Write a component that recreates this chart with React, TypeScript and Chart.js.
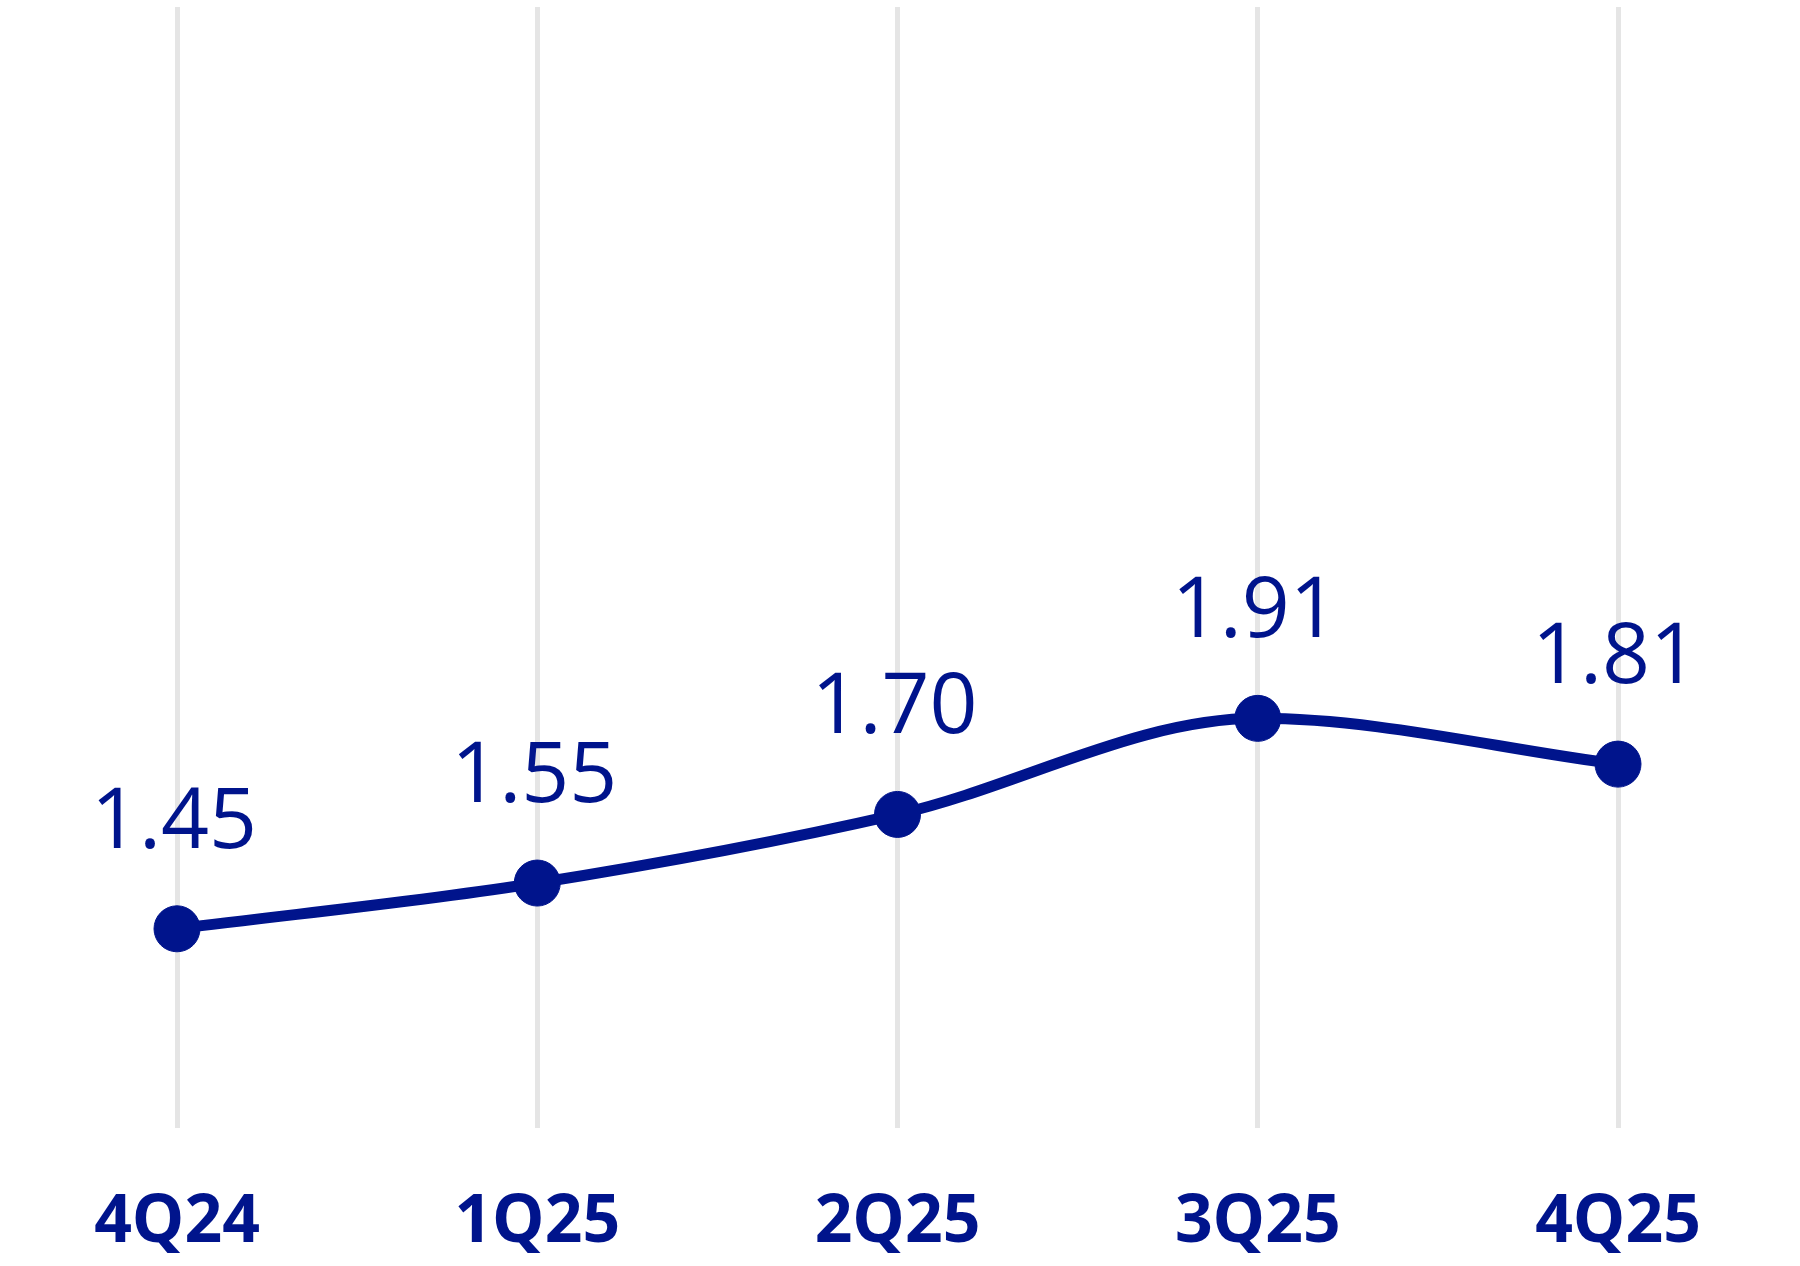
import React, { useEffect, useRef } from "react";
import { Chart, registerables } from "chart.js";

Chart.register(...registerables);

const categories = ["4Q24", "1Q25", "2Q25", "3Q25", "4Q25"];
const values = [1.45, 1.55, 1.7, 1.91, 1.81];
const valueLabels = ["1.45", "1.55", "1.70", "1.91", "1.81"];

const NAVY = "#00148c";
const GRID = "#e5e5e5";

const dataLabelPlugin = {
  id: "dataLabels",
  afterDatasetsDraw(chart: any) {
    const ctx = chart.ctx;
    const meta = chart.getDatasetMeta(0);
    ctx.save();
    ctx.fillStyle = NAVY;
    ctx.font = "400 84px 'Open Sans'";
    ctx.textAlign = "center";
    ctx.textBaseline = "alphabetic";
    meta.data.forEach((el: any, i: number) => {
      ctx.fillText(valueLabels[i], el.x - 3, el.y - 81);
    });
    ctx.restore();
  },
};

export default function App() {
  const ref = useRef<HTMLCanvasElement | null>(null);

  useEffect(() => {
    if (!ref.current) return;
    const chart = new Chart(ref.current, {
      type: "line",
      data: {
        labels: categories,
        datasets: [
          {
            data: values,
            borderColor: NAVY,
            backgroundColor: NAVY,
            borderWidth: 11,
            cubicInterpolationMode: "monotone",
            pointRadius: 23,
            pointBorderWidth: 1,
            pointBackgroundColor: NAVY,
            pointBorderColor: NAVY,
            fill: false,
          },
        ],
      },
      options: {
        animation: false,
        responsive: false,
        layout: {
          autoPadding: false,
          padding: { left: 177, right: 182, top: 7, bottom: 0 },
        },
        plugins: {
          legend: { display: false },
          tooltip: { enabled: false },
        },
        scales: {
          x: {
            offset: false,
            grid: {
              display: true,
              color: GRID,
              lineWidth: 5,
              drawTicks: false,
            },
            border: { display: false },
            ticks: {
              color: NAVY,
              padding: 56,
              font: { family: "'Open Sans'", size: 66, weight: "bold" },
              maxRotation: 0,
              autoSkip: false,
            },
          },
          y: {
            display: false,
            min: 1.015,
            max: 3.465,
          },
        },
      },
      plugins: [dataLabelPlugin],
    });
    return () => chart.destroy();
  }, []);

  return (
    <div style={{ position: "fixed", left: 0, top: 0, width: 1800, height: 1266, overflow: "hidden", background: "#fff" }}>
      <canvas ref={ref} width={1800} height={1319} style={{ display: "block" }} />
    </div>
  );
}
